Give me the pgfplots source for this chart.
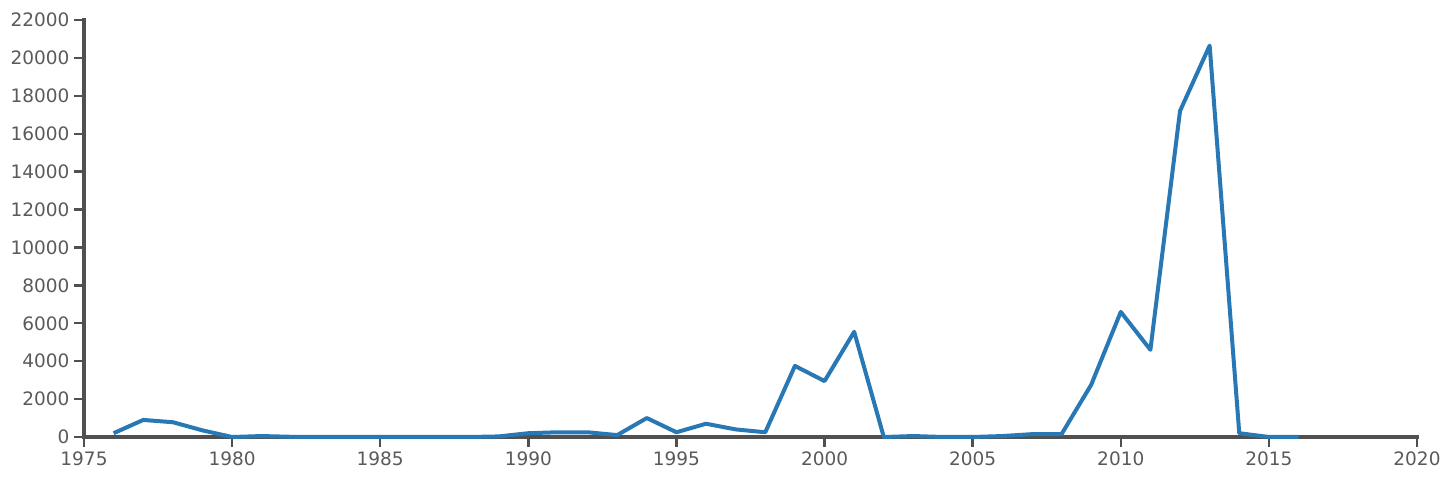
\documentclass[border=0pt]{standalone}
\usepackage{fontspec}
\setmainfont{DejaVu Sans}
\usepackage{pgfplots}
\pgfplotsset{compat=1.18}
\definecolor{linec}{RGB}{40,120,181}
\definecolor{axc}{RGB}{80,80,80}
\definecolor{labc}{RGB}{90,90,90}
\begin{document}
\begin{tikzpicture}
\path[use as bounding box] (-84pt,-45pt) rectangle (1368pt,437pt);
\begin{axis}[
  name=ax, at={(0,0)}, anchor=origin,
  scale only axis, width=1333pt, height=417pt,
  xmin=1975, xmax=2020, ymin=0, ymax=22000,
  axis lines=left,
  every outer x axis line/.append style={-, draw=none},
  every outer y axis line/.append style={-, draw=none},
  xtick={1975,1980,...,2020}, ytick={0,2000,...,22000},
  scaled ticks=false,
  tick align=outside, major tick length=10pt,
  every tick/.append style={axc, line width=2.4pt},
  minor tick num=0,
  /pgf/number format/1000 sep={},
  /pgf/number format/assume math mode=true,
  ticklabel style={font=\fontsize{18.5}{21}\selectfont, text=labc},
  xticklabel style={yshift=-1pt},
  yticklabel style={xshift=-1pt},
  clip=false,
]
\draw[axc, line width=3.2pt, line cap=rect] (rel axis cs:0,1) -- (rel axis cs:0,0) -- (rel axis cs:1,0);
\addplot[linec, line width=4pt, line join=round] coordinates {
(1976,200) (1977,900) (1978,780) (1979,350) (1980,0) (1981,50) (1982,10)
(1983,0) (1984,0) (1985,0) (1986,0) (1987,0) (1988,0) (1989,30)
(1990,200) (1991,250) (1992,250) (1993,100) (1994,1000) (1995,250)
(1996,700) (1997,400) (1998,250) (1999,3750) (2000,2950) (2001,5550)
(2002,0) (2003,50) (2004,0) (2005,0) (2006,50) (2007,150) (2008,150)
(2009,2750) (2010,6600) (2011,4600) (2012,17200) (2013,20650)
(2014,200) (2015,0) (2016,0)
};
\end{axis}
\end{tikzpicture}
\end{document}
